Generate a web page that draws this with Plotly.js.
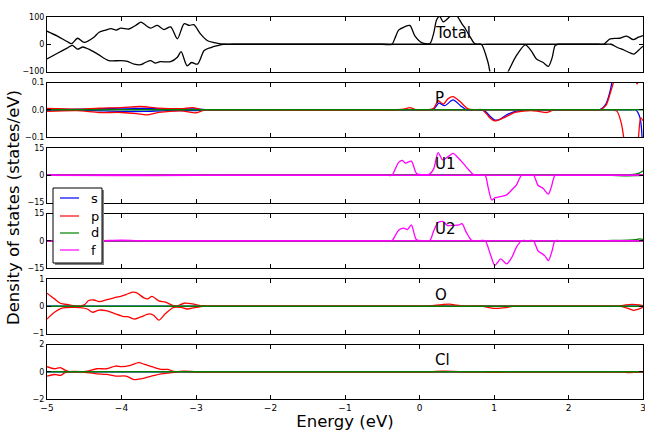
<!DOCTYPE html>
<html>
<head>
<meta charset="utf-8">
<script src="https://cdn.plot.ly/plotly-3.0.1.min.js"></script>
<style>html,body{margin:0;padding:0;background:#fff;}#chart{width:645px;height:431px;}</style>
</head>
<body>
<div id="chart"></div>
<script>
// ---------- data (energy in eV, DOS in states/eV) ----------
const xTicks = [-5, -4, -3, -2, -1, 0, 1, 2, 3];
const panelNames = ["Total", "P", "U1", "U2", "O", "Cl"];
const legendLabels = ["s", "p", "d", "f"];
const zeroE = [-5, 3];
const zeroV = [0, 0];

// Total (spin up / spin down)
const totalUpE = [-5, -4.86, -4.73, -4.67, -4.59, -4.5, -4.37, -4.3, -4.21, -4.14, -4.07, -4.01, -3.9, -3.81, -3.74, -3.7, -3.61, -3.52, -3.43, -3.34, -3.25, -3.16, -3.09, -3.03, -2.94, -2.85, -2.76, -2.7, -2.62, -2.5, -0.5, -0.37, -0.33, -0.28, -0.2, -0.13, -0.06, 0.03, 0.14, 0.19, 0.23, 0.27, 0.32, 0.39, 0.45, 0.5, 0.57, 0.62, 0.68, 0.74, 0.8, 0.9, 2.4, 2.47, 2.56, 2.69, 2.78, 2.87, 2.94, 3.0];
const totalUpV = [48, 30, 10, 2, 22, 7, 26, 44, 52, 57, 52, 59, 56, 69, 81, 75, 59, 69, 54, 64, 20, 75, 69, 72, 38, 14, 6, 3, 0, 0, 0, 0, 22, 52, 64, 69, 30, 6, 3, 40, 90, 102, 82, 97, 112, 105, 75, 55, 27, 3, 0, 0, 0, 0, 20, 22, 30, 17, 26, 32];
const totalDnE = [-5, -4.86, -4.73, -4.66, -4.59, -4.52, -4.44, -4.32, -4.17, -4.01, -3.92, -3.83, -3.74, -3.68, -3.61, -3.55, -3.48, -3.34, -3.25, -3.2, -3.12, -3.06, -2.98, -2.89, -2.8, -2.71, -2.63, -2.5, 0.7, 0.78, 0.83, 0.92, 0.97, 1.05, 1.12, 1.19, 1.3, 1.42, 1.5, 1.57, 1.66, 1.73, 1.78, 1.82, 1.86, 1.95, 2.5, 2.57, 2.65, 2.75, 2.83, 2.88, 2.96, 3.0];
const totalDnV = [-54, -33, -14, -4, -18, -10, -18, -36, -60, -60, -63, -73, -75, -67, -60, -69, -64, -64, -48, -27, -79, -67, -73, -23, -12, -5, 0, 0, 0, 0, 0, -67, -130, -160, -130, -100, -42, -2, -24, -54, -67, -81, -50, -5, 0, 0, 0, 0, -11, -22, -32, -36, -17, -7];

// P
const pSUpE = [-5, -4.5, -4.0, -3.7, -3.4, -3.0, -2.85, -2.75, 0.0, 0.1, 0.19, 0.26, 0.34, 0.45, 0.55, 0.63, 0.75, 2.35, 2.42, 2.5, 2.56, 2.6, 2.7, 2.8, 2.9, 3.0];
const pSUpV = [0.002, 0.002, 0.006, 0.005, 0.003, 0.003, 0, 0, 0, 0, 0.002, 0.024, 0.015, 0.036, 0.015, 0, 0, 0, 0, 0.02, 0.07, 0.13, 0.3, 0.45, 0.4, 0.35];
const pSDnE = [-5, -4.5, -4.0, -3.7, -3.4, -3.0, -2.85, -2.75, 0.7, 0.8, 0.88, 0.95, 1.01, 1.08, 1.16, 1.3, 1.45, 1.55, 2.85, 2.9, 2.96, 3.0];
const pSDnV = [-0.002, -0.002, -0.006, -0.006, -0.003, -0.003, 0, 0, 0, 0, -0.005, -0.025, -0.038, -0.035, -0.02, -0.005, 0, 0, 0, 0, -0.03, -0.2];
const pPUpE = [-5, -4.6, -4.3, -4.0, -3.75, -3.5, -3.2, -3.05, -2.9, -2.8, -0.3, -0.2, -0.13, -0.05, 0.05, 0.12, 0.19, 0.25, 0.32, 0.38, 0.45, 0.54, 0.65, 0.75, 0.85, 2.35, 2.42, 2.5, 2.56, 2.62, 2.7, 2.8, 2.87, 2.92, 2.97, 3.0];
const pPUpV = [0.005, 0.002, 0.006, 0.008, 0.012, 0.006, 0.004, 0.008, 0, 0, 0, 0.003, 0.008, 0, 0, 0, 0.005, 0.033, 0.021, 0.04, 0.048, 0.031, 0.003, 0, 0, 0, 0, 0.015, 0.06, 0.12, 0.3, 0.3, 0.15, 0.095, 0.15, 0.3];
const pPDnE = [-5, -4.6, -4.3, -4.0, -3.8, -3.66, -3.5, -3.2, -3.0, -2.88, -2.78, 0.75, 0.84, 0.9, 0.95, 1.01, 1.12, 1.2, 1.28, 1.39, 1.5, 1.6, 1.71, 1.8, 1.9, 2.55, 2.6, 2.65, 2.7, 2.74, 2.8, 2.88, 2.94, 2.97, 3.0];
const pPDnV = [-0.006, -0.003, -0.01, -0.01, -0.014, -0.019, -0.01, -0.004, -0.011, 0, 0, 0, 0, -0.015, -0.031, -0.041, -0.031, -0.02, -0.01, -0.005, -0.003, -0.006, -0.01, 0, 0, 0, 0, -0.005, -0.04, -0.1, -0.3, -0.3, -0.1, -0.03, -0.04];

// U1
const u1FUpE = [-5, -4.5, -4.0, -3.5, -3.0, -2.8, -2.7, -0.45, -0.37, -0.33, -0.28, -0.23, -0.19, -0.11, -0.04, 0.05, 0.14, 0.19, 0.25, 0.31, 0.39, 0.45, 0.52, 0.59, 0.66, 0.72, 0.8, 0.9, 3.0];
const u1FUpV = [0, 0.1, 0.2, 0.1, 0.15, 0, 0, 0, 0, 3, 7.1, 8.2, 6.7, 7.8, 1, 0.3, 0.8, 3.5, 12.5, 8.5, 10.5, 12, 9.5, 6.4, 3, 0.5, 0, 0, 0];
const u1FDnE = [-5, -4.0, -3.0, -2.8, -2.7, 0.8, 0.88, 0.92, 0.97, 1.01, 1.08, 1.17, 1.24, 1.3, 1.37, 1.45, 1.53, 1.59, 1.66, 1.73, 1.77, 1.82, 1.9, 3.0];
const u1FDnV = [0, -0.15, -0.1, 0, 0, 0, 0, -6.4, -13.6, -12.5, -11.8, -10.8, -8, -5.5, 0, 0, 0, -5.5, -7.3, -10.4, -6.4, 0, 0, 0];
const u1DUpE = [-5, 2.3, 2.4, 2.6, 2.8, 2.9, 2.95, 3.0];
const u1DUpV = [0, 0, 0, 0.15, 0.35, 0.6, 1.2, 2.5];
const u1DDnE = [-5, 2.4, 2.5, 2.65, 2.8, 2.9, 3.0];
const u1DDnV = [0, 0, 0, -0.2, -0.3, -0.25, -0.1];

// U2
const u2FUpE = [-5, -4.3, -4.0, -3.7, -3.6, -0.45, -0.37, -0.33, -0.28, -0.21, -0.16, -0.11, -0.04, 0.05, 0.14, 0.19, 0.25, 0.32, 0.37, 0.45, 0.53, 0.57, 0.63, 0.7, 0.78, 0.88, 3.0];
const u2FUpV = [0, 0, 0.3, 0, 0, 0, 0, 2.5, 5.8, 6.9, 6.2, 8.7, 0.5, 0, 0.3, 5.4, 10, 10.5, 8.5, 8.5, 8.7, 9.4, 4.5, 0.3, 0, 0, 0];
const u2FDnE = [-5, 0.8, 0.88, 0.95, 1.01, 1.05, 1.09, 1.17, 1.24, 1.3, 1.37, 1.45, 1.53, 1.59, 1.68, 1.73, 1.78, 1.82, 1.9, 3.0];
const u2FDnV = [0, 0, 0, -7.3, -13.6, -11.8, -10, -12.7, -9.1, -3.6, 0, 0, 0, -5.5, -8.2, -10.9, -5.5, 0, 0, 0];
const u2DUpE = [-5, 2.3, 2.4, 2.6, 2.8, 2.9, 2.95, 3.0];
const u2DUpV = [0, 0, 0, 0.15, 0.3, 0.6, 1.0, 0.8];
const u2DDnE = [-5, 2.4, 2.5, 2.65, 2.8, 2.9, 3.0];
const u2DDnV = [0, 0, 0, -0.2, -0.3, -0.25, -0.1];

// O
const oPUpE = [-5, -4.9, -4.82, -4.7, -4.61, -4.5, -4.44, -4.37, -4.3, -4.21, -4.1, -4.01, -3.94, -3.85, -3.8, -3.7, -3.65, -3.59, -3.5, -3.41, -3.27, -3.16, -3.05, -2.94, -2.86, -2.76, 0.0, 0.1, 0.2, 0.3, 0.4, 0.5, 0.6, 0.7, 2.55, 2.65, 2.75, 2.85, 2.95, 3.0];
const oPUpV = [0.48, 0.27, 0.11, 0.05, 0, 0.05, 0.21, 0.23, 0.17, 0.23, 0.31, 0.36, 0.43, 0.52, 0.5, 0.31, 0.27, 0.36, 0.2, 0.15, 0, 0.11, 0.09, 0.02, 0, 0, 0, 0, 0.03, 0.06, 0.08, 0.04, 0, 0, 0, 0, 0.04, 0.07, 0.05, 0.02];
const oPDnE = [-5, -4.9, -4.8, -4.65, -4.55, -4.46, -4.39, -4.3, -4.21, -4.1, -3.97, -3.92, -3.83, -3.74, -3.63, -3.57, -3.5, -3.41, -3.3, -3.2, -3.12, -3.02, -2.9, -2.8, 0.75, 0.85, 0.95, 1.05, 1.15, 1.25, 1.35, 2.6, 2.7, 2.8, 2.87, 2.95, 3.0];
const oPDnV = [-0.47, -0.22, -0.07, -0.04, -0.05, -0.1, -0.22, -0.14, -0.16, -0.26, -0.38, -0.38, -0.47, -0.39, -0.28, -0.33, -0.51, -0.27, -0.04, -0.04, -0.1, -0.05, 0, 0, 0, 0, -0.06, -0.08, -0.05, 0, 0, 0, 0, -0.08, -0.15, -0.1, -0.03];

// Cl
const clPUpE = [-5, -4.9, -4.82, -4.76, -4.7, -4.55, -4.46, -4.33, -4.2, -4.08, -4.0, -3.88, -3.77, -3.69, -3.58, -3.46, -3.38, -3.28, -3.16, -3.0, -2.9, 0.05, 0.15, 0.3, 0.45, 0.6, 0.7, 3.0];
const clPUpV = [0.37, 0.22, 0.3, 0.12, 0, 0, 0.05, 0.22, 0.22, 0.42, 0.37, 0.47, 0.67, 0.54, 0.35, 0.17, 0.17, 0, 0.05, 0, 0, 0, 0, 0.04, 0.03, 0, 0, 0];
const clPDnE = [-5, -4.9, -4.82, -4.76, -4.7, -4.55, -4.46, -4.33, -4.2, -4.08, -3.94, -3.83, -3.74, -3.6, -3.47, -3.33, -3.24, -3.14, 0.75, 0.85, 1.0, 1.15, 1.25, 2.55, 2.65, 2.8, 2.95, 3.0];
const clPDnV = [-0.32, -0.2, -0.27, -0.07, 0, 0, -0.07, -0.15, -0.2, -0.32, -0.32, -0.57, -0.52, -0.32, -0.15, -0.07, 0, 0, 0, 0, -0.05, 0, 0, 0, 0, -0.06, -0.03, 0];

const yRanges = [[-100, 100], [-0.1, 0.1], [-15, 15], [-15, 15], [-1, 1], [-2, 2]];
const yTicks = [[-100, 0, 100], [-0.1, 0, 0.1], [-15, 0, 15], [-15, 0, 15], [-1, 0, 1], [-2, 0, 2]];

// ---------- styling ----------
const C = {s: "#0000ff", p: "#ff0000", d: "#008000", f: "#ff00ff", tot: "#000000"};
const W = 645, Hh = 431, M = {l: 47, r: 2, t: 17, b: 32};
const plotW = W - M.l - M.r, plotH = Hh - M.t - M.b;
const panelH = 54.5, gap = 11;
const px = v => (v - M.l) / plotW;
const py = v => (Hh - M.b - v) / plotH;

function tr(E, V, color, n) {
  return {x: E, y: V, xaxis: n === 1 ? "x" : "x" + n, yaxis: n === 1 ? "y" : "y" + n,
    mode: "lines", line: {color: color, width: 1.3, shape: "spline", smoothing: 0.8},
    hoverinfo: "skip", showlegend: false};
}

const traces = [
  tr(totalUpE, totalUpV, C.tot, 1), tr(totalDnE, totalDnV, C.tot, 1),
  tr(pSUpE, pSUpV, C.s, 2), tr(pSDnE, pSDnV, C.s, 2),
  tr(pPUpE, pPUpV, C.p, 2), tr(pPDnE, pPDnV, C.p, 2),
  tr(zeroE, zeroV, C.d, 2),
  tr(zeroE, zeroV, C.s, 3), tr(zeroE, zeroV, C.p, 3),
  tr(u1DUpE, u1DUpV, C.d, 3), tr(u1DDnE, u1DDnV, C.d, 3),
  tr(u1FUpE, u1FUpV, C.f, 3), tr(u1FDnE, u1FDnV, C.f, 3),
  tr(zeroE, zeroV, C.s, 4), tr(zeroE, zeroV, C.p, 4),
  tr(u2DUpE, u2DUpV, C.d, 4), tr(u2DDnE, u2DDnV, C.d, 4),
  tr(u2FUpE, u2FUpV, C.f, 4), tr(u2FDnE, u2FDnV, C.f, 4),
  tr(zeroE, zeroV, C.s, 5), tr(oPUpE, oPUpV, C.p, 5), tr(oPDnE, oPDnV, C.p, 5), tr(zeroE, zeroV, C.d, 5),
  tr(zeroE, zeroV, C.s, 6), tr(clPUpE, clPUpV, C.p, 6), tr(clPDnE, clPDnV, C.p, 6), tr(zeroE, zeroV, C.d, 6)
];

const base = {showline: true, linecolor: "#000", linewidth: 1, mirror: "ticks", ticks: "inside",
  ticklen: 4, tickwidth: 1, tickcolor: "#000", showgrid: false, zeroline: false, fixedrange: true};

const layout = {
  width: W, height: Hh, margin: M, paper_bgcolor: "#fff", plot_bgcolor: "#fff",
  font: {family: "DejaVu Sans", color: "#000"}, showlegend: false,
  annotations: [], shapes: []
};

for (let i = 0; i < 6; i++) {
  const n = i + 1;
  const top = 1 - (i * (panelH + gap)) / plotH;
  const bot = 1 - (i * (panelH + gap) + panelH) / plotH;
  const xa = Object.assign({}, base, {range: [-5, 3], tickvals: xTicks, anchor: n === 1 ? "y" : "y" + n,
    domain: [0, 1], showticklabels: n === 6, tickfont: {size: 9}, ticklabeloverflow: "allow"});
  if (n > 1) xa.matches = "x";
  if (n === 6) xa.title = {text: "Energy (eV)", font: {size: 16.5}, standoff: 7};
  const ya = Object.assign({}, base, {range: yRanges[i], tickvals: yTicks[i], domain: [bot, top],
    anchor: n === 1 ? "x" : "x" + n, tickfont: {size: 8}});
  if (n === 2) ya.tickformat = ".1f";
  layout[n === 1 ? "xaxis" : "xaxis" + n] = xa;
  layout[n === 1 ? "yaxis" : "yaxis" + n] = ya;
  layout.annotations.push({text: panelNames[i], xref: n === 1 ? "x" : "x" + n, yref: (n === 1 ? "y" : "y" + n) + " domain",
    x: 0.18, y: 0.71, xanchor: "left", yanchor: "middle", showarrow: false, font: {size: 15}});
}

// y axis title
layout.annotations.push({text: "Density of states (states/eV)", xref: "paper", yref: "paper",
  x: px(13.5), y: py(207.5), textangle: -90, showarrow: false, font: {size: 16.5},
  xanchor: "center", yanchor: "middle"});

// legend (drawn box with shadow)
layout.shapes.push({type: "rect", xref: "paper", yref: "paper", x0: px(55), x1: px(104), y0: py(265), y1: py(190),
  fillcolor: "#808080", line: {width: 0}, layer: "above"});
layout.shapes.push({type: "rect", xref: "paper", yref: "paper", x0: px(53), x1: px(102), y0: py(263), y1: py(188),
  fillcolor: "#ffffff", line: {color: "#000", width: 1}, layer: "above"});
const legColors = [C.s, C.p, C.d, C.f];
const legY = [198, 216, 233, 250];
for (let k = 0; k < 4; k++) {
  layout.shapes.push({type: "line", xref: "paper", yref: "paper", x0: px(60), x1: px(79), y0: py(legY[k]), y1: py(legY[k]),
    line: {color: legColors[k], width: 1.2}, layer: "above"});
  layout.annotations.push({text: legendLabels[k], xref: "paper", yref: "paper", x: px(89), y: py(legY[k]),
    xanchor: "left", yanchor: "middle", showarrow: false, font: {size: 13}});
}

Plotly.newPlot("chart", traces, layout, {staticPlot: true, displayModeBar: false});
</script>
</body>
</html>
